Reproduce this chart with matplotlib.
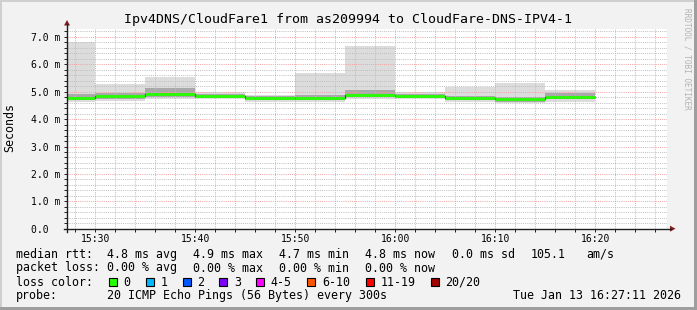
import matplotlib
matplotlib.use("Agg")
import matplotlib.pyplot as plt
from matplotlib.patches import Rectangle, Polygon
from matplotlib.lines import Line2D
from matplotlib.ticker import MultipleLocator

# --- Data -------------------------------------------------------------------
# x in minutes after 15:00, values in milliseconds (axis shows "m" = milli)
step_edges = [25, 30, 35, 40, 45, 50, 55, 60, 65, 70, 75, 80]
rtt_median = [4.78, 4.85, 4.93, 4.85, 4.76, 4.76, 4.87, 4.84, 4.78, 4.73, 4.81]
smoke_max = [6.80, 5.28, 5.55, 5.00, 4.88, 5.69, 6.67, 5.00, 5.18, 5.33, 5.06]
smoke_hi = [4.92, 4.95, 5.12, 4.93, 4.84, 4.88, 5.06, 4.93, 4.86, 4.82, 4.95]
smoke_lo = [4.70, 4.75, 4.82, 4.77, 4.68, 4.68, 4.79, 4.77, 4.70, 4.64, 4.72]
smoke_min = [4.62, 4.66, 4.73, 4.72, 4.62, 4.62, 4.72, 4.72, 4.64, 4.59, 4.64]

x_ticks = [30, 40, 50, 60, 70, 80]
x_tick_labels = ["15:30", "15:40", "15:50", "16:00", "16:10", "16:20"]
y_ticks = [0, 1, 2, 3, 4, 5, 6, 7]
y_tick_labels = ["0.0  ", "1.0 m", "2.0 m", "3.0 m", "4.0 m", "5.0 m", "6.0 m", "7.0 m"]
x_range = (27 + 11 / 60, 87 + 11 / 60)   # 15:27:11 .. 16:27:11
y_max = 7.3

title = "Ipv4DNS/CloudFare1 from as209994 to CloudFare-DNS-IPV4-1"
loss_labels = ["0", "1", "2", "3", "4-5", "6-10", "11-19", "20/20"]
loss_colors = ["#26ff00", "#00b8ff", "#0059ff", "#7e00ff", "#ff00ff",
               "#ff5500", "#ff0000", "#a10000"]

# --- Figure -----------------------------------------------------------------
W, H = 697, 310
MONO = "DejaVu Sans Mono"
plt.rcParams["font.family"] = MONO

fig = plt.figure(figsize=(W / 100, H / 100), dpi=100, facecolor="#f2f2f2")

def fx(x): return x / W
def fy(y): return 1 - y / H

X0, X1, Y0, Y1 = 67, 667, 228.7, 28.7
ax = fig.add_axes([fx(X0), fy(Y0), (X1 - X0) / W, (Y0 - Y1) / H])
ax.set_facecolor("white")
ax.set_xlim(*x_range); ax.set_ylim(0, y_max)
for s in ax.spines.values(): s.set_visible(False)

# smoke + median
ax.stairs(smoke_max, step_edges, baseline=smoke_min, fill=True,
          color="#dcdcdc", zorder=1)
ax.stairs(smoke_hi, step_edges, baseline=smoke_lo, fill=True,
          color="#a9a9a9", zorder=1.1)
ax.stairs(rtt_median, step_edges, baseline=None, color="black", lw=0.9, zorder=3)
ax.hlines(rtt_median, step_edges[:-1], step_edges[1:], color=loss_colors[0],
          lw=2.0, zorder=3.5)

# grid
ax.set_xticks(x_ticks, x_tick_labels)
ax.set_yticks(y_ticks, y_tick_labels)
ax.xaxis.set_minor_locator(MultipleLocator(2))
ax.yaxis.set_minor_locator(MultipleLocator(0.2))
ax.grid(which="minor", color="#bdbdbd", lw=0.7, ls=(0, (1, 1.2)), zorder=2)
ax.grid(which="major", color="#f0a0a0", lw=0.7, ls=(0, (1, 1.2)), zorder=2.2)
ax.set_axisbelow(False)
ax.tick_params(which="both", direction="out", length=2, width=0.7,
               color="#1f1f1f", labelsize=7, pad=3)
ax.tick_params(axis="x", pad=1.5)
ax.set_ylabel("Seconds", fontsize=8.4)
ax.yaxis.set_label_coords((16 - X0) / (X1 - X0), (Y0 - 127.5) / (Y0 - Y1))

# axes lines + arrows
AX = "#1f1f1f"; AR = "#801f1f"
fig.add_artist(Line2D([fx(X0), fx(X0)], [fy(Y0 + 3), fy(24)], color=AX, lw=1.0))
fig.add_artist(Line2D([fx(X0 - 3), fx(671)], [fy(Y0), fy(Y0)], color=AX, lw=1.0))
fig.add_artist(Polygon([(fx(64), fy(25.5)), (fx(70), fy(25.5)), (fx(67), fy(20))],
                       closed=True, color=AR, lw=0))
fig.add_artist(Polygon([(fx(670), fy(Y0 - 3)), (fx(670), fy(Y0 + 3)), (fx(675.5), fy(Y0))],
                       closed=True, color=AR, lw=0))

# frame shading
fig.add_artist(Rectangle((0, fy(2)), 1, 2 / H, color="#cfcfcf", lw=0))
fig.add_artist(Rectangle((0, 0), 2 / W, 1, color="#cfcfcf", lw=0))
fig.add_artist(Rectangle((0, 0), 1, 3 / H, color="#9e9e9e", lw=0))
fig.add_artist(Rectangle((1 - 3 / W, 0), 3 / W, 1, color="#9e9e9e", lw=0))

# title / watermark
fig.text(fx(348), fy(19), title, ha="center", va="center", fontsize=9.5)
fig.text(fx(687), fy(59), "RRDTOOL / TOBI OETIKER", ha="center", va="center",
         rotation=270, fontsize=5.6, color="#b3b3b3")

# legend
FS = 8.4
rows = [
    (254.3, [(16, "median rtt:"), (107.3, "4.8 ms avg"), (193.3, "4.9 ms max"),
             (279.3, "4.7 ms min"), (365, "4.8 ms now"), (451.7, "0.0 ms sd"),
             (530.7, "105.1"), (586, "am/s")]),
    (268.0, [(16, "packet loss:"), (107.3, "0.00 % avg"), (193.3, "0.00 % max"),
             (278.7, "0.00 % min"), (365, "0.00 % now")]),
    (282.3, [(16, "loss color:")]),
    (295.7, [(16, "probe:"), (107.3, "20 ICMP Echo Pings (56 Bytes) every 300s")]),
]
for y, items in rows:
    for x, s in items:
        fig.text(fx(x), fy(y), s, ha="left", va="center", fontsize=FS)
fig.text(fx(681), fy(295.7), "Tue Jan 13 16:27:11 2026", ha="right",
         va="center", fontsize=FS)

sw_x = [108.7, 145.7, 182.7, 219.3, 256, 307.3, 365.7, 430.7]
for x, c, lab in zip(sw_x, loss_colors, loss_labels):
    fig.add_artist(Rectangle((fx(x), fy(286)), 8 / W, 8 / H, facecolor=c,
                             edgecolor="black", lw=0.8))
    fig.text(fx(x + 14.7), fy(282.3), lab, ha="left", va="center", fontsize=FS)

fig.savefig("out.png", dpi=100, facecolor=fig.get_facecolor())
